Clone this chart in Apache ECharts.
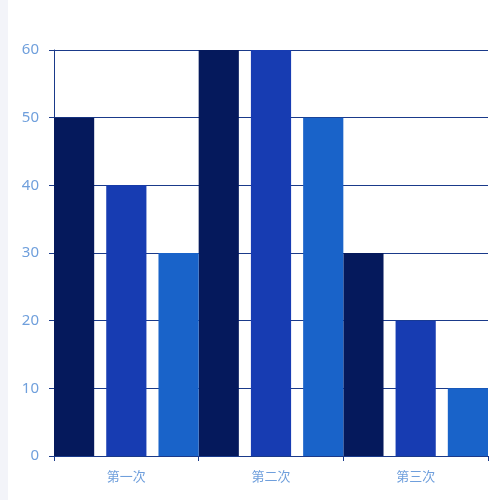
<!DOCTYPE html>
<html>
<head>
<meta charset="utf-8">
<script src="https://cdn.jsdelivr.net/npm/echarts@6/dist/echarts.min.js"></script>
<style>
    html, body { margin: 0; padding: 0; background: #f3f4f9; }
    #chart { position: absolute; left: 8px; top: 0; width: 492px; height: 500px; background: #fff; }
</style>
</head>
<body>
<div id="chart"></div>
<script>
const categories = ['第一次', '第二次', '第三次'];
const seriesA = [50, 60, 30];
const seriesB = [40, 60, 20];
const seriesC = [30, 50, 10];
const barColors = ['#05195c', '#173cb2', '#1963c9'];

const lineColor = '#1a3a8a';
const labelColor = '#6f9fdc';

const myChart = echarts.init(document.getElementById('chart'));
myChart.setOption({
    animation: false,
    grid: {
        left: 46,
        right: 12,
        top: 50,
        bottom: 44,
        containLabel: false
    },
    xAxis: {
        type: 'category',
        data: categories,
        axisLine: { lineStyle: { color: lineColor } },
        axisTick: { show: true, length: 5, lineStyle: { color: lineColor } },
        axisLabel: { color: labelColor, fontSize: 13, margin: 14, fontFamily: 'Noto Sans CJK SC' }
    },
    yAxis: {
        type: 'value',
        min: 0,
        max: 60,
        interval: 10,
        axisLine: { show: true, lineStyle: { color: lineColor } },
        axisTick: { show: true, length: 5, lineStyle: { color: lineColor } },
        axisLabel: { color: labelColor, fontSize: 15, margin: 15, fontFamily: 'Noto Sans' },
        splitLine: { lineStyle: { color: lineColor } }
    },
    series: [seriesA, seriesB, seriesC].map((d, i) => ({
        type: 'bar',
        data: d,
        barGap: '30%',
        barCategoryGap: '0%',
        itemStyle: { color: barColors[i] }
    }))
});
</script>
</body>
</html>
